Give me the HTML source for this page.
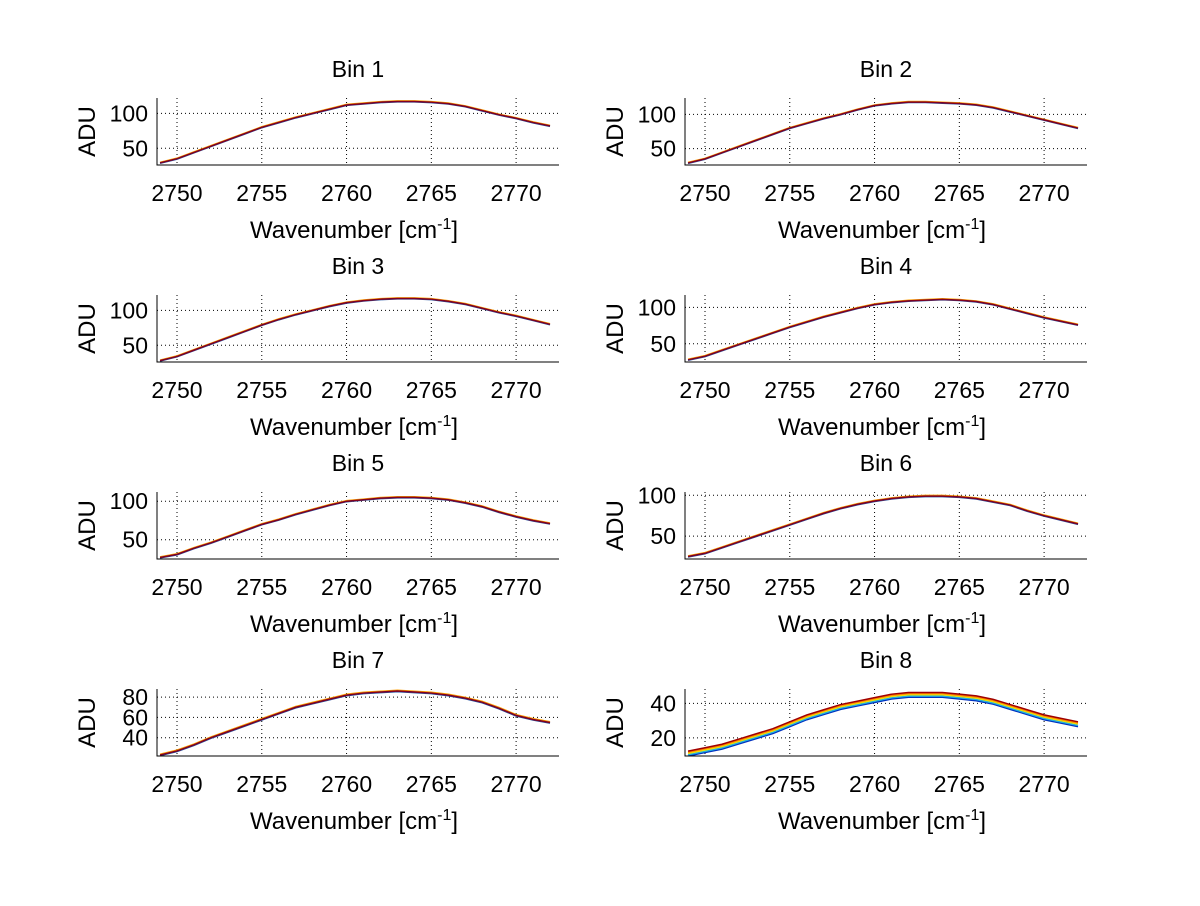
<!DOCTYPE html>
<html><head><meta charset="utf-8"><style>
body{margin:0;background:#fff;width:1200px;height:901px;overflow:hidden}
svg text{font-family:"Liberation Sans",sans-serif;fill:#000}
</style></head><body>
<svg id="fig" width="1200" height="901" xmlns="http://www.w3.org/2000/svg"></svg>
<script>
const wavenumbers=[2749,2750,2751,2752,2753,2754,2755,2756,2757,2758,2759,2760,2761,2762,2763,2764,2765,2766,2767,2768,2769,2770,2771,2772];
const bin1=[29,35,44,53,62,71,80,87,94,100,106,112,114,116,117,117,116,114,110,104,98,93,87,82];
const bin2=[29,35,44,53,62,71,80,87,94,100,107,113,116,118,118,117,116,114,110,104,98,92,86,80];
const bin3=[28,34,43,52,61,70,79,87,94,100,106,111,114,116,117,117,116,113,109,103,97,92,86,80];
const bin4=[28,33,41,49,57,65,73,80,87,93,99,104,107,109,110,111,110,108,104,98,92,86,81,76];
const bin5=[27,31,39,46,54,62,70,76,83,89,95,100,102,104,105,105,104,102,98,93,86,80,75,71];
const bin6=[25,29,36,43,50,57,64,71,78,84,89,93,96,98,99,99,98,96,92,88,81,75,70,65];
const bin7=[23,27,33,40,46,52,58,64,70,74,78,82,84,85,86,85,84,82,79,75,69,62,58,55];
const bin8=[11,13,15,18,21,24,28,32,35,38,40,42,44,45,45,45,44,43,41,38,35,32,30,28];
const xTicks=[2750,2755,2760,2765,2770];
const yTicks=[[50,100],[50,100],[50,100],[50,100],[50,100],[50,100],[40,60,80],[20,40]];
const yRanges=[[26,122],[26,124],[26,122],[25,117],[25,112],[22,104],[22,88],[9.5,48.3]];
const series=[bin1,bin2,bin3,bin4,bin5,bin6,bin7,bin8];
const NS="http://www.w3.org/2000/svg";
const svg=document.getElementById('fig');
function mk(tag,attrs,parent){const e=document.createElementNS(NS,tag);for(const k in attrs)e.setAttribute(k,attrs[k]);(parent||svg).appendChild(e);return e;}
const xmin=2748.82,xmax=2772.53;
for(let i=0;i<8;i++){
  const col=i%2,row=Math.floor(i/2);
  const L=col?685:157,R=col?1087:559,T=98+row*197,B=165+row*197;
  const g=mk('g',{});
  
  
  const [y0,y1]=yRanges[i];
  const sx=v=>L+(v-xmin)/(xmax-xmin)*(R-L);
  const sy=v=>B-(v-y0)/(y1-y0)*(B-T);
  const cp=mk('clipPath',{id:'c'+i},g);mk('rect',{x:L,y:T,width:R-L,height:B-T},cp);
  xTicks.forEach(t=>{const l=mk('line',{x1:sx(t),x2:sx(t),y1:T,y2:B,stroke:'#000','stroke-width':1,'stroke-dasharray':'1,3'},g);
    
    const tx=mk('text',{x:sx(t),y:B+36,'font-size':23,'text-anchor':'middle'},g);tx.textContent=t;
    });
  yTicks[i].forEach(t=>{const l=mk('line',{x1:L,x2:R,y1:sy(t),y2:sy(t),stroke:'#000','stroke-width':1,'stroke-dasharray':'1,3'},g);
    
    const tx=mk('text',{x:L-9,y:sy(t)+8,'font-size':23,'text-anchor':'end'},g);tx.textContent=t;
    });
  const d=series[i];
  const offs=i==7?[[-1.5,'#0030c0'],[-0.8,'#20b0e0'],[0,'#f0e000'],[0.7,'#ff8000'],[1.3,'#a00000']]:[[0.8,'#ffa000'],[-0.6,'#2050a0'],[0,'#800020']];
  offs.forEach(([o,c])=>{const p=mk('polyline',{points:wavenumbers.map((w,j)=>sx(w)+','+sy(d[j]+o)).join(' '),fill:'none',stroke:c,'stroke-width':1.5,'clip-path':'url(#c'+i+')'},g);
    });
  const ax=mk('path',{d:`M${L},${T}V${B}H${R}`,fill:'none',stroke:'#000','stroke-width':1},g);
  
  const ti=mk('text',{x:(L+R)/2,y:T-21,'font-size':23,'text-anchor':'middle'},g);ti.textContent='Bin '+(i+1);
  
  const xl=mk('text',{x:(L+R)/2-4,y:B+73,'font-size':24,'text-anchor':'middle'},g);
  xl.innerHTML='Wavenumber [cm<tspan dy="-9" font-size="16">-1</tspan><tspan dy="9">]</tspan>';
  
  const yl=mk('text',{x:0,y:0,'font-size':24,'text-anchor':'middle',transform:`translate(${L-62},${(T+B)/2}) rotate(-90)`},g);yl.textContent='ADU';
  
}
</script>
</body></html>
